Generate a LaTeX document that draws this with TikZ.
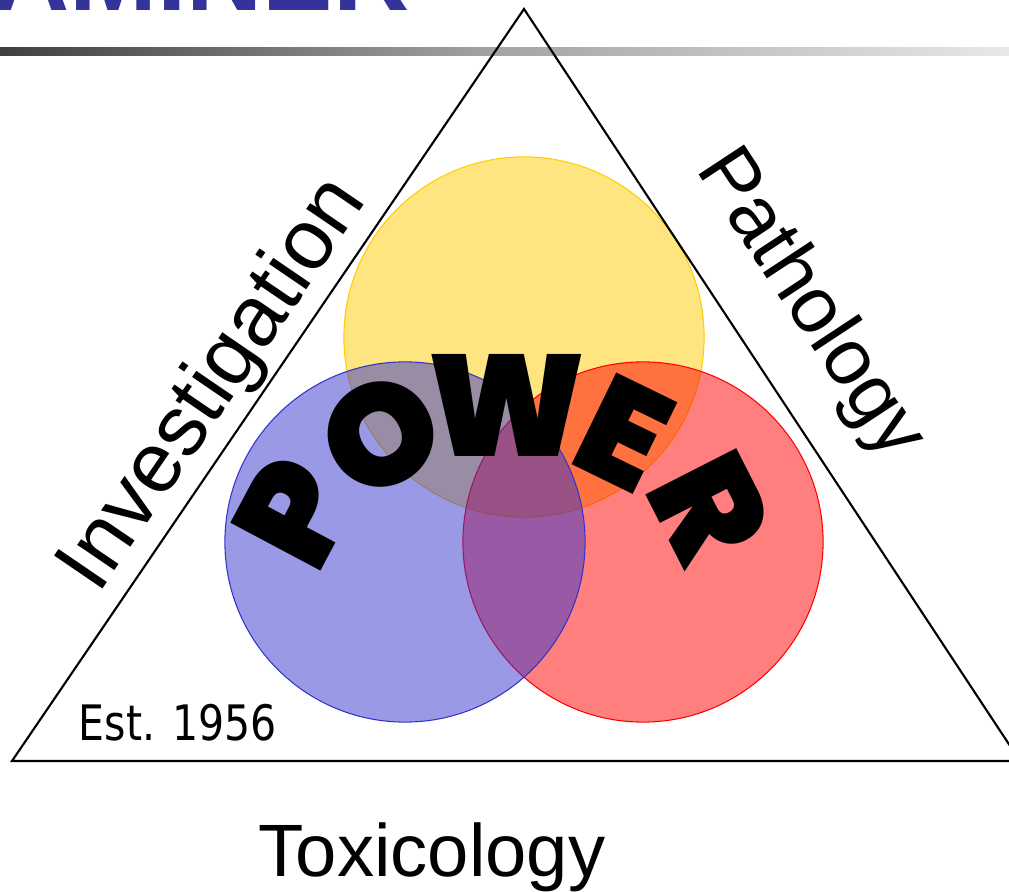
\documentclass[tikz,border=0pt]{standalone}
\usepackage{fontspec}
\setmainfont{Liberation Sans}
\newfontfamily\estfont{DejaVu Sans}
\newfontfamily\powerfont{Poppins Black}
\usepackage{tikz}
\usetikzlibrary{calc}

\definecolor{titleblue}{RGB}{51,51,153}
\definecolor{barleft}{RGB}{64,64,64}
\definecolor{barmid}{RGB}{165,165,165}
\definecolor{barright}{RGB}{232,232,232}
\definecolor{ringyellow}{RGB}{255,204,0}
\definecolor{ringblue}{RGB}{51,51,204}
\definecolor{ringred}{RGB}{255,0,0}

\tikzset{
  ring/.style={fill opacity=0.5, line width=0.3pt},
  sidelabel/.style={inner sep=0pt, anchor=base, font=\fontsize{#1}{#1}\selectfont},
  letter/.style={inner sep=0pt, font=\powerfont\fontsize{41}{41}\selectfont},
}

\begin{document}
\begin{tikzpicture}[x=0.01cm,y=-0.01cm]
\useasboundingbox (0,0) rectangle (1009,892);
\clip (0,0) rectangle (1009,892);

%title
\node[anchor=base east, inner sep=0pt, text=titleblue, font=\bfseries\fontsize{30}{30}\selectfont] (title) at (410,11) {EXAMINER};
\shade[left color=barleft, right color=barright, middle color=barmid] (0,48) rectangle (1009,56);

%rings
\draw[ring, draw=ringyellow, fill=ringyellow] (524,337) circle[radius=1.8cm];
\draw[ring, draw=ringred, fill=ringred] (643,542) circle[radius=1.8cm];
\draw[ring, draw=ringblue, fill=ringblue] (405,542) circle[radius=1.8cm];

%triangle
\draw[line width=0.6pt] (524,9) -- (12,761) -- (1020,761) -- cycle;

%sides
\node[sidelabel=24.2pt, rotate=55.7] (invest) at (233,398) {Investigation};
\node[sidelabel=22.5pt, rotate=-56.6] (patho) at (792,316) {Pathology};
\node[sidelabel=21.1pt] (toxic) at (432,877) {Toxicology};
\node[anchor=base west, inner sep=0pt, font=\estfont\fontsize{13.9}{13.9}\selectfont] (est) at (78,741) {\scalebox{0.84}[1]{Est. 1956}};

%POWER
\node[letter, rotate=62] (p) at (294,512) {P};
\node[letter, rotate=30] (o) at (381,435) {O};
\node[letter] (w) at (507,405) {W};
\node[letter, rotate=-26] (e) at (624,433) {E};
\node[letter, rotate=-63] (r) at (710,508) {R};

\end{tikzpicture}
\end{document}
